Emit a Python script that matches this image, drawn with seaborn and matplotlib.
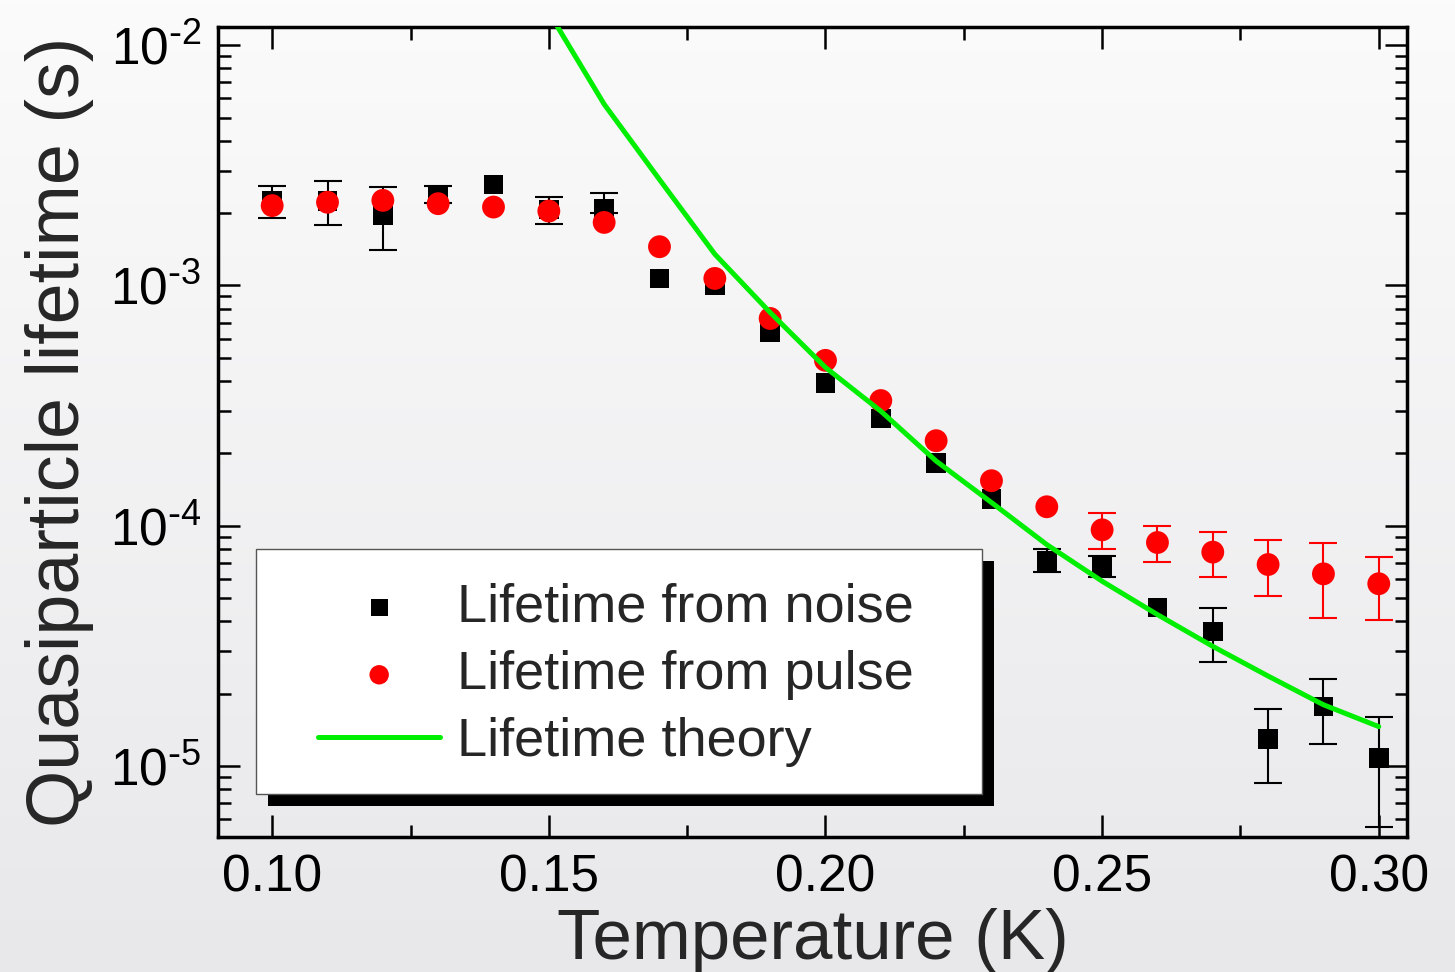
import numpy as np
import pandas as pd
import matplotlib
matplotlib.use("Agg")
import matplotlib.pyplot as plt
import seaborn as sns
from matplotlib.patches import Rectangle
from matplotlib.ticker import MultipleLocator, LogLocator, NullFormatter, FuncFormatter

# ----- dati -----
temps = [0.10, 0.11, 0.12, 0.13, 0.14, 0.15, 0.16, 0.17, 0.18, 0.19, 0.20,
         0.21, 0.22, 0.23, 0.24, 0.25, 0.26, 0.27, 0.28, 0.29, 0.30]

tau_noise = [2.26e-3, 2.25e-3, 1.97e-3, 2.39e-3, 2.63e-3, 2.07e-3, 2.08e-3,
             1.07e-3, 1.00e-3, 6.37e-4, 3.94e-4, 2.80e-4, 1.82e-4, 1.29e-4,
             7.15e-5, 6.79e-5, 4.57e-5, 3.63e-5, 1.30e-5, 1.77e-5, 1.08e-5]
noise_hi = [2.59e-3, 2.71e-3, 2.57e-3, 2.60e-3, np.nan, 2.33e-3, 2.43e-3,
            np.nan, np.nan, np.nan, np.nan, np.nan, np.nan, np.nan,
            7.98e-5, 7.50e-5, np.nan, 4.57e-5, 1.73e-5, 2.31e-5, 1.60e-5]
noise_lo = [1.91e-3, 1.79e-3, 1.40e-3, 2.20e-3, np.nan, 1.81e-3, 2.00e-3,
            np.nan, np.nan, np.nan, np.nan, np.nan, np.nan, np.nan,
            6.40e-5, 6.10e-5, np.nan, 2.71e-5, 8.50e-6, 1.24e-5, 5.60e-6]

tau_pulse = [2.15e-3, 2.22e-3, 2.26e-3, 2.19e-3, 2.12e-3, 2.04e-3, 1.83e-3,
             1.45e-3, 1.07e-3, 7.29e-4, 4.88e-4, 3.32e-4, 2.26e-4, 1.54e-4,
             1.20e-4, 9.62e-5, 8.52e-5, 7.77e-5, 6.90e-5, 6.31e-5, 5.74e-5]
pulse_hi = [np.nan] * 15 + [1.13e-4, 9.96e-5, 9.42e-5, 8.72e-5, 8.50e-5, 7.38e-5]
pulse_lo = [np.nan] * 15 + [7.98e-5, 7.06e-5, 6.14e-5, 5.08e-5, 4.15e-5, 4.04e-5]

theory_T = [0.15, 0.16, 0.17, 0.18, 0.19, 0.20, 0.21, 0.22,
            0.23, 0.24, 0.25, 0.26, 0.27, 0.28, 0.29, 0.30]
tau_theory = [1.37e-2, 5.68e-3, 2.76e-3, 1.35e-3, 7.72e-4, 4.56e-4, 3.00e-4, 1.86e-4,
              1.25e-4, 8.35e-5, 5.88e-5, 4.27e-5, 3.15e-5, 2.37e-5, 1.80e-5, 1.46e-5]

df = pd.DataFrame({"T": temps, "noise": tau_noise, "noise_hi": noise_hi, "noise_lo": noise_lo,
                   "pulse": tau_pulse, "pulse_hi": pulse_hi, "pulse_lo": pulse_lo})
df_th = pd.DataFrame({"T": theory_T, "theory": tau_theory})

# ----- stile -----
sns.set_style("ticks")
plt.rcParams["font.family"] = ["Liberation Sans", "DejaVu Sans"]
plt.rcParams["axes.unicode_minus"] = False

fig = plt.figure(figsize=(14.55, 9.72), dpi=100)

# sfondo sfumato
bg = fig.add_axes([0, 0, 1, 1], zorder=-10)
grad = np.linspace(0, 1, 256).reshape(-1, 1)
bg.imshow(grad, aspect="auto", cmap=matplotlib.colors.LinearSegmentedColormap.from_list(
    "bg", ["#fbfbfb", "#e8e8eb"]), extent=[0, 1, 0, 1])
bg.axis("off")

ax = fig.add_axes([0.1498, 0.1389, 0.8172, 0.8333])
ax.set_facecolor("none")

# barre d'errore
for col, color in [("noise", "black"), ("pulse", "red")]:
    sub = df.dropna(subset=[col + "_hi"])
    yerr = [sub[col] - sub[col + "_lo"], sub[col + "_hi"] - sub[col]]
    ax.errorbar(sub["T"], sub[col], yerr=yerr, fmt="none", ecolor=color,
                elinewidth=1.5, capsize=10, capthick=1.5, zorder=2)

sns.scatterplot(data=df, x="T", y="noise", marker="s", s=200, color="black",
                edgecolor="none", ax=ax, zorder=3, label="Lifetime from noise")
sns.scatterplot(data=df, x="T", y="pulse", marker="o", s=270, color="red",
                edgecolor="none", ax=ax, zorder=4, label="Lifetime from pulse")
sns.lineplot(data=df_th, x="T", y="theory", color="#00ee00", lw=3.6, ax=ax,
             zorder=4, label="Lifetime theory")

ax.set_yscale("log")
ax.set_xlim(0.0902, 0.3051)
ax.set_ylim(5.07e-6, 1.19e-2)

ax.xaxis.set_major_locator(MultipleLocator(0.05))
ax.xaxis.set_minor_locator(MultipleLocator(0.025))
ax.xaxis.set_major_formatter(matplotlib.ticker.FormatStrFormatter("%.2f"))
ax.yaxis.set_major_locator(LogLocator(base=10, numticks=10))
ax.yaxis.set_minor_locator(LogLocator(base=10, subs=np.arange(2, 10), numticks=20))
ax.yaxis.set_minor_formatter(NullFormatter())
ax.yaxis.set_major_formatter(FuncFormatter(
    lambda v, p: r"$\mathregular{10^{\text{-}%d}}$" % round(-np.log10(v))))

ax.tick_params(which="both", direction="in", top=True, right=True, width=1.8, colors="black")
ax.tick_params(which="major", length=16, labelsize=37)
ax.tick_params(which="minor", length=9)
ax.tick_params(axis="x", which="major", pad=12)
ax.tick_params(axis="y", which="major", pad=12)
for sp in ax.spines.values():
    sp.set_linewidth(2.5)
    sp.set_color("black")

ax.set_xlabel("Temperature (K)", fontsize=51, labelpad=4)
ax.set_ylabel("Quasiparticle lifetime (s)", fontsize=53, labelpad=11)

# ----- legenda con ombra -----
x0, y0, w, h = 0.032, 0.053, 0.6106, 0.3026
ax.add_patch(Rectangle((x0 + 0.0101, y0 - 0.0148), w, h, transform=ax.transAxes,
                       facecolor="black", edgecolor="none", zorder=5, clip_on=False))
ax.add_patch(Rectangle((x0, y0), w, h, transform=ax.transAxes,
                       facecolor="white", edgecolor="#555555", lw=1.0, zorder=6, clip_on=False))
leg = ax.legend(loc="upper left", bbox_to_anchor=(0.0841, 0.314), frameon=False,
                fontsize=39, borderpad=0, borderaxespad=0, handlelength=2.26,
                handletextpad=0.3, labelspacing=0.32, markerscale=0.85)
leg.set_zorder(7)

plt.savefig("out.png", dpi=100)
